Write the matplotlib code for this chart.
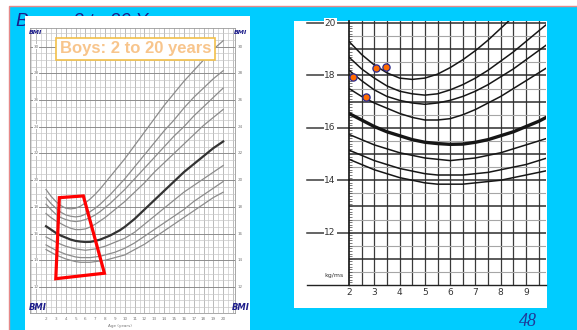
import numpy as np
import matplotlib
matplotlib.use("Agg")
import matplotlib.pyplot as plt
from matplotlib.patches import Rectangle, Polygon
from matplotlib.path import Path
from matplotlib.ticker import MultipleLocator

# percentile curves, BMI (kg/m2) by age (years)
ages = [2, 2.5, 3, 3.5, 4, 4.5, 5, 5.5, 6, 6.5, 7, 7.5, 8, 8.5, 9, 9.5, 10,
        11, 12, 13, 14, 15, 16, 17, 18, 19, 20]
p5 = [14.8, 14.6, 14.4, 14.25, 14.1, 14.0, 13.9, 13.85, 13.85, 13.85, 13.9, 13.95, 14.0, 14.1, 14.2, 14.3, 14.4,
      14.8, 15.2, 15.7, 16.2, 16.7, 17.2, 17.7, 18.2, 18.7, 19.1]
p10 = [15.15, 14.95, 14.75, 14.6, 14.45, 14.35, 14.25, 14.2, 14.2, 14.2, 14.25, 14.3, 14.4, 14.5, 14.6, 14.75, 14.9,
       15.3, 15.8, 16.3, 16.8, 17.3, 17.8, 18.4, 18.9, 19.4, 19.9]
p25 = [15.75, 15.55, 15.35, 15.2, 15.05, 14.95, 14.85, 14.8, 14.75, 14.8, 14.85, 14.95, 15.05, 15.2, 15.35, 15.5, 15.65,
       16.1, 16.7, 17.3, 17.9, 18.5, 19.1, 19.6, 20.1, 20.6, 21.1]
p50 = [16.55, 16.3, 16.05, 15.85, 15.7, 15.55, 15.45, 15.4, 15.37, 15.38, 15.45, 15.55, 15.7, 15.85, 16.05, 16.25, 16.5,
       17.1, 17.8, 18.5, 19.2, 19.9, 20.6, 21.2, 21.8, 22.4, 22.9]
p75 = [17.5, 17.2, 16.95, 16.75, 16.55, 16.4, 16.3, 16.3, 16.35, 16.5, 16.7, 16.95, 17.2, 17.5, 17.8, 18.1, 18.4,
       19.1, 19.8, 20.6, 21.3, 22.0, 22.7, 23.4, 24.1, 24.7, 25.3]
p85 = [18.2, 17.8, 17.45, 17.2, 17.05, 16.95, 16.9, 16.95, 17.05, 17.2, 17.4, 17.65, 17.95, 18.25, 18.6, 18.95, 19.3,
       20.1, 20.9, 21.7, 22.5, 23.3, 24.0, 24.8, 25.5, 26.2, 26.9]
p90 = [18.7, 18.25, 17.9, 17.6, 17.4, 17.3, 17.25, 17.3, 17.45, 17.65, 17.9, 18.2, 18.55, 18.9, 19.3, 19.7, 20.1,
       21.0, 21.9, 22.8, 23.7, 24.5, 25.4, 26.2, 26.9, 27.6, 28.2]
p95 = [19.3, 18.8, 18.4, 18.1, 17.9, 17.85, 17.9, 18.05, 18.3, 18.6, 18.95, 19.35, 19.8, 20.25, 20.7, 21.15, 21.6,
       22.6, 23.6, 24.6, 25.6, 26.5, 27.4, 28.2, 29.0, 29.8, 30.45]
curves = [p5, p10, p25, p50, p75, p85, p90, p95]

# child measurements marked on the zoomed chart
child_age = [2.15, 2.67, 3.07, 3.45]
child_bmi = [17.95, 17.17, 18.28, 18.34]

# red box drawn on the full chart (age, bmi)
box_age = [3.35, 5.79, 7.93, 2.99]
box_bmi = [18.69, 18.82, 13.03, 12.62]

left_yticks = [12, 14, 16, 18, 20, 22, 24, 26, 28, 30]
left_xticks = list(range(2, 21))
right_yticks = [12, 14, 16, 18, 20]
right_xticks = [2, 3, 4, 5, 6, 7, 8, 9]

W, H = 577, 330
navy = "#1c1c8a"


def box(x0, y0, x1, y1):
    return [x0 / W, 1 - y1 / H, (x1 - x0) / W, (y1 - y0) / H]


fig = plt.figure(figsize=(W / 100, H / 100), dpi=100)
fig.patch.set_facecolor("white")

# slide background, title and white panels in pixel coords
bg = fig.add_axes([0, 0, 1, 1], zorder=-5)
bg.set_xlim(0, W)
bg.set_ylim(H, 0)
bg.axis("off")
bg.add_patch(Rectangle((8.5, 5.5), W, H, facecolor="#00ccff", edgecolor="#e58a8a", lw=1.0, zorder=1))
title = bg.text(16, 26, "Boys:  2 to 20 Years", fontsize=13.5, style="italic",
                color=navy, family="Liberation Sans", va="baseline", zorder=2)
# the title sits behind the left panel: only the part outside it shows
title.set_clip_path(Path([(0, 0), (W, 0), (W, 16), (25, 16), (25, H), (0, H), (0, 0)]),
                    transform=bg.transData)
bg.add_patch(Rectangle((25, 16), 225, H, facecolor="white", edgecolor="none", zorder=3))
bg.add_patch(Rectangle((294, 21), 253, 287, facecolor="white", edgecolor="none", zorder=3))
bg.text(528, 322, "48", fontsize=13, style="italic", family="Liberation Serif",
        color="#1f3a99", ha="center", va="center", zorder=4)

# ---- left: full chart 2-20 years
ax1 = fig.add_axes(box(30, 28, 235, 313))
ax1.set_xlim(0.37, 21.2)
ax1.set_ylim(10.05, 31.4)
for a in np.arange(0.5, 21.5, 0.5):
    ax1.axvline(a, color="#a0a0a0" if a % 1 == 0 else "#cccccc", lw=0.5, zorder=1)
for b in np.arange(10.5, 31.5, 0.5):
    ax1.axhline(b, color="#8e8e8e" if b % 2 == 0 else "#c8c8c8", lw=0.7 if b % 2 == 0 else 0.5, zorder=1)
for c in curves:
    if c is p50:
        ax1.plot(ages, c, color="#333333", lw=1.6, zorder=3)
    else:
        ax1.plot(ages, c, color="#8c8c8c", lw=0.9, zorder=3)
ax1.add_patch(Polygon(list(zip(box_age, box_bmi)), closed=True, fill=False,
                      edgecolor="#ff0000", lw=2.3, zorder=5, joinstyle="miter"))
for v in left_yticks:
    ax1.text(0.03, v, str(v), transform=ax1.get_yaxis_transform(), fontsize=3,
             color="#777777", ha="center", va="center", zorder=4,
             bbox=dict(facecolor="white", edgecolor="none", pad=0.3))
    ax1.text(1.025, v, str(v), transform=ax1.get_yaxis_transform(), fontsize=3,
             color="#777777", ha="center", va="center")
for v in left_xticks:
    ax1.text(v, -0.015, str(v), transform=ax1.get_xaxis_transform(), fontsize=3,
             color="#777777", ha="center", va="top")
ax1.text(9.5, -0.04, "Age (years)", transform=ax1.get_xaxis_transform(), fontsize=3,
         color="#777777", ha="center", va="top")
ax1.set_xticks([])
ax1.set_yticks([])
for s in ax1.spines.values():
    s.set_color("#9a9a9a")
    s.set_linewidth(0.6)

fig.text(135.5 / W, 1 - 49 / H, "Boys: 2 to 20 years", fontsize=12, fontweight="bold",
         color="#f8c58c", family="Liberation Sans", ha="center", va="center", zorder=6,
         bbox=dict(boxstyle="square,pad=0.22", facecolor="white", edgecolor="#f2c04a", lw=1.2))
for x, y, fs in [(36, 32, 4.5), (241, 32, 4.5), (38, 307, 6), (241, 307, 6)]:
    fig.text(x / W, 1 - y / H, "BMI", fontsize=fs, fontweight="bold", style="italic",
             color=navy, ha="center", va="center", zorder=6)

# ---- right: zoom on 2-10 years
ax2 = fig.add_axes(box(349, 21, 546, 285))
ax2.set_xlim(2, 9.79)
ax2.set_ylim(10.0, 20.08)
for a in np.arange(2.5, 10, 0.5):
    ax2.axvline(a, color="#3a3a3a", lw=0.9, zorder=1)
for b in np.arange(10.5, 20.5, 0.5):
    if b % 1 == 0:
        ax2.axhline(b, color="#2e2e2e", lw=1.1, zorder=1)
    else:
        ax2.axhline(b, color="#a6a6a6", lw=0.8, zorder=1)
for c in curves:
    ax2.plot(ages, c, color="#161616", lw=2.4 if c is p50 else 1.1, zorder=3)
ax2.plot(child_age, child_bmi, "o", ms=5.2, mfc="#ff6a00", mec="#2a2a90", mew=0.9,
         zorder=6, clip_on=False)

ax2.set_xticks(right_xticks)
ax2.set_xticklabels([str(v) for v in right_xticks], fontsize=6.5, color="#333333")
ax2.tick_params(axis="x", length=0, pad=2)
ax2.set_yticks([])
ax2.yaxis.set_minor_locator(MultipleLocator(0.1))
ax2.tick_params(axis="y", which="minor", direction="in", length=2, width=0.5, color="#444444")
for v in right_yticks:
    ax2.plot([-0.213, 0], [v, v], transform=ax2.get_yaxis_transform(), color="#3a3a3a",
             lw=1.1, clip_on=False, zorder=2)
    ax2.text(-0.096, v, str(v), transform=ax2.get_yaxis_transform(), fontsize=6.5,
             color="#333333", ha="center", va="center", zorder=4,
             bbox=dict(facecolor="white", edgecolor="none", pad=0.6))
ax2.plot([-0.213, 0], [0, 0], transform=ax2.transAxes, color="#222222", lw=1.0, clip_on=False)
ax2.text(-0.075, 10.35, "kg/ms", fontsize=4.5, color="#333333", ha="center", va="center",
         transform=ax2.get_yaxis_transform())
ax2.spines["top"].set_visible(False)
ax2.spines["right"].set_visible(False)
ax2.spines["left"].set_color("#111111")
ax2.spines["left"].set_linewidth(1.2)
ax2.spines["bottom"].set_color("#222222")
ax2.spines["bottom"].set_linewidth(1.0)

fig.savefig("out.png", dpi=100, facecolor=fig.get_facecolor())
